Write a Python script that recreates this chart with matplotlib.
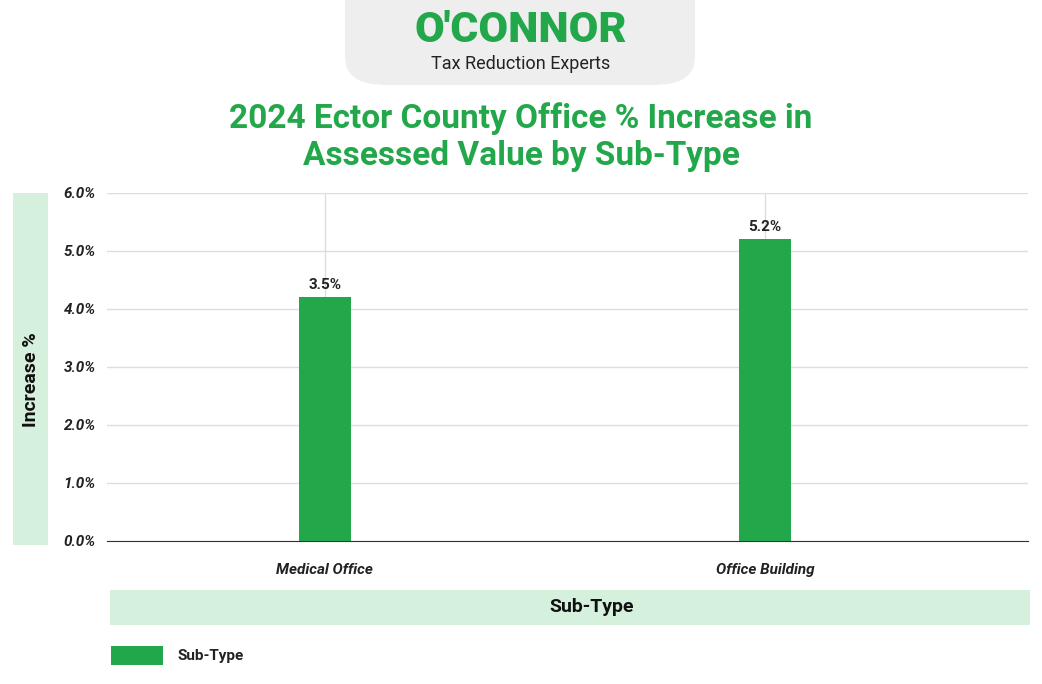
import matplotlib.pyplot as plt
from matplotlib.patches import Rectangle, FancyBboxPatch

plt.rcParams['font.family'] = 'Roboto'

categories = ['Medical Office', 'Office Building']
values = [4.2, 5.2]
value_labels = ['3.5%', '5.2%']
y_ticks = [0, 1, 2, 3, 4, 5, 6]

GREEN = '#22a84a'
LIGHT = '#d5f0dc'
W, H = 1042, 684

fig = plt.figure(figsize=(W / 100, H / 100), dpi=100)


def fx(px):
    return px / W


def fy(py):
    return 1 - py / H


# logo badge
badge = FancyBboxPatch((fx(345), fy(85)), fx(350), fy(0) - fy(85) + 0.05,
                       boxstyle='round,pad=0,rounding_size=0.04',
                       transform=fig.transFigure, facecolor='#eeeeee',
                       edgecolor='none', zorder=0)
fig.patches.append(badge)
fig.text(0.5, fy(31), "O'CONNOR", ha='center', va='center', fontsize=31,
         fontweight='black', color=GREEN)
fig.text(0.5, fy(64), 'Tax Reduction Experts', ha='center', va='center',
         fontsize=13, color='#222222')

fig.text(0.5, fy(137), '2024 Ector County Office % Increase in\nAssessed Value by Sub-Type',
         ha='center', va='center', fontsize=24, fontweight='bold', color=GREEN,
         linespacing=1.2)

ax = fig.add_axes([fx(107), fy(541), fx(1028) - fx(107), fy(193) - fy(541)])
x = range(len(categories))
bars = ax.bar(x, values, width=0.118, color=GREEN, zorder=3)
for b, lab in zip(bars, value_labels):
    ax.annotate(lab, (b.get_x() + b.get_width() / 2, b.get_height()),
                xytext=(0, 4), textcoords='offset points', ha='center',
                va='bottom', fontsize=11, fontweight='bold', color='#222222')

ax.set_xlim(-0.495, 1.598)
ax.set_ylim(0, 6)
ax.set_yticks(y_ticks)
ax.set_yticklabels([f'{t:.1f}%' for t in y_ticks], fontsize=11,
                   fontstyle='italic', fontweight='bold', color='#222222')
ax.set_xticks(list(x))
ax.set_xticklabels(categories, fontsize=11, fontstyle='italic',
                   fontweight='bold', color='#222222')
ax.tick_params(axis='both', length=0, pad=8)
ax.tick_params(axis='x', pad=16)
ax.grid(True, color='#dddddd', linewidth=1, zorder=0)
for s in ['top', 'right', 'left']:
    ax.spines[s].set_visible(False)
ax.spines['bottom'].set_color('#333333')

# axis title boxes
fig.patches.append(Rectangle((fx(13), fy(545)), fx(35), fy(193) - fy(545),
                             transform=fig.transFigure, facecolor=LIGHT,
                             edgecolor='none'))
fig.text(fx(31), fy(380), 'Increase %', rotation=90, ha='center', va='center',
         fontsize=14, fontweight='bold', color='#111111')
fig.patches.append(Rectangle((fx(110), fy(625)), fx(920), fy(590) - fy(625),
                             transform=fig.transFigure, facecolor=LIGHT,
                             edgecolor='none'))
fig.text(fx(592), fy(607), 'Sub-Type', ha='center', va='center',
         fontsize=14, fontweight='bold', color='#111111')

# legend
fig.patches.append(Rectangle((fx(111), fy(665)), fx(52), fy(646) - fy(665),
                             transform=fig.transFigure, facecolor=GREEN,
                             edgecolor='none'))
fig.text(fx(177), fy(656), 'Sub-Type', ha='left', va='center',
         fontsize=11, fontweight='bold', color='#222222')

fig.savefig('out.png', dpi=100)
